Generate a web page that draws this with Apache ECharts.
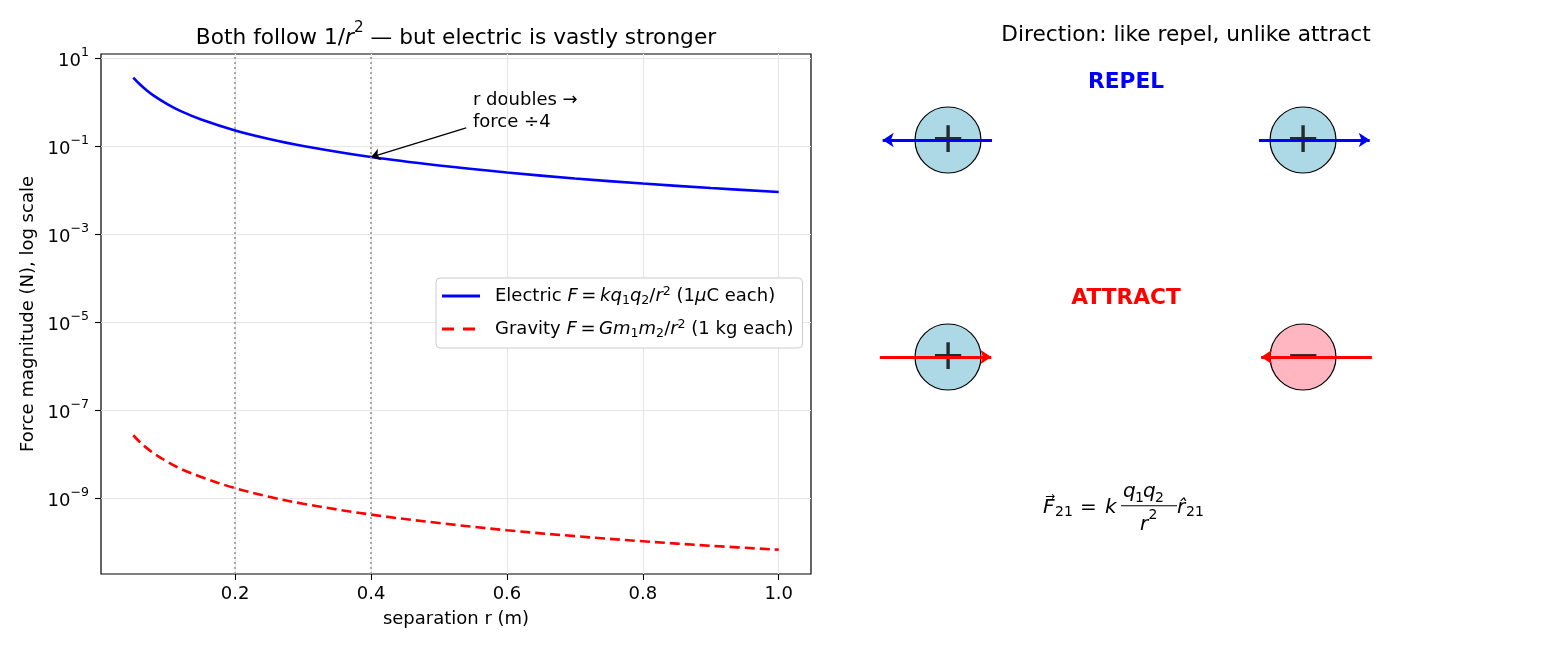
<!DOCTYPE html>
<html>
<head>
<meta charset="utf-8">
<script src="https://cdn.jsdelivr.net/npm/echarts@6/dist/echarts.min.js"></script>
<style>
  html, body { margin: 0; padding: 0; background: #fff; }
  #chart { width: 1560px; height: 650px; }
</style>
</head>
<body>
<div id="chart"></div>
<script>
// separation r (m) and force magnitudes
var rValues = [0.05, 0.06, 0.07, 0.08, 0.10, 0.12, 0.15, 0.20, 0.25, 0.30, 0.40, 0.50, 0.60, 0.70, 0.80, 0.90, 1.00];
var electricForce = [3.6, 2.5, 1.83, 1.4, 0.90, 0.62, 0.40, 0.225, 0.144, 0.10, 0.056, 0.036, 0.025, 0.0183, 0.014, 0.0111, 0.009];
var gravityForce = [2.67e-8, 1.85e-8, 1.36e-8, 1.04e-8, 6.7e-9, 4.6e-9, 3.0e-9, 1.67e-9, 1.07e-9, 7.4e-10, 4.2e-10, 2.7e-10, 1.85e-10, 1.36e-10, 1.04e-10, 8.2e-11, 6.7e-11];

// tick labels
var xTicks = [0.2, 0.4, 0.6, 0.8, 1.0];
var yTicks = [10, 0.1, 1e-3, 1e-5, 1e-7, 1e-9];
var yTickLabels = ['1', '−1', '−3', '−5', '−7', '−9'];
var markerR = [0.2, 0.4];

// annotation arrow: [r, F] start -> end
var noteFrom = [0.54, 0.257];
var noteTo = [0.4, 0.056];

// right panel diagram (own unit space)
var chargeX = [2.5, 7.5, 2.5, 7.5];
var chargeY = [8, 8, 4, 4];
var chargeSign = ['+', '+', '+', '−'];
var chargeFill = ['#add8e6', '#add8e6', '#add8e6', '#ffb6c1'];
var arrowFrom = [3.12, 6.88, 1.54, 8.47];
var arrowTo = [1.58, 8.44, 3.11, 6.91];
var arrowY = [8, 8, 4, 4];
var arrowColor = ['#0000ff', '#0000ff', '#ff0000', '#ff0000'];

var FONT = 'DejaVu Sans';

var chart = echarts.init(document.getElementById('chart'));

var legendText = {
  'Electric': 'Electric {i|F}\u2009=\u2009{i|kq}{s|1}{i|q}{s|2}/{i|r}{p|2} (1{i|μ}C each)',
  'Gravity': 'Gravity {i|F}\u2009=\u2009{i|Gm}{s|1}{i|m}{s|2}/{i|r}{p|2} (1 kg each)'
};

// small helper for the formula pieces
function mathText(txt, x, y, size, italic) {
  return {
    type: 'text', x: x, y: y, silent: true,
    style: { text: txt, fontSize: size, fontStyle: italic ? 'italic' : 'normal', fill: '#000',
      fontFamily: FONT, verticalAlign: 'middle' }
  };
}

var option = {
  animation: false,
  textStyle: { fontFamily: FONT },
  grid: [
    { left: 101, top: 54, width: 710, height: 520, show: true, borderColor: '#000', borderWidth: 1.2, backgroundColor: 'transparent' },
    { left: 770.5, top: 31.5, width: 710, height: 542.5, show: false }
  ],
  legend: {
    left: 436, top: 278, orient: 'vertical',
    padding: [7, 9, 8, 6], itemGap: 11, itemWidth: 38, itemHeight: 3,
    backgroundColor: '#fff', borderColor: '#cccccc', borderWidth: 1, borderRadius: 4,
    data: [
      { name: 'Electric', icon: 'path://M0,0H38V3H0Z' },
      { name: 'Gravity', icon: 'path://M0,0H12V3H0Z M21,0H33V3H21Z M37.9,0H38V3H37.9Z' }
    ],
    formatter: function (name) { return legendText[name]; },
    textStyle: {
      fontSize: 18, color: '#000', lineHeight: 22, padding: [0, 0, 0, 10], fontFamily: FONT,
      rich: {
        i: { fontStyle: 'italic', fontSize: 18, color: '#000', fontFamily: FONT },
        s: { fontSize: 12.6, verticalAlign: 'bottom', lineHeight: 22, color: '#000', fontFamily: FONT },
        p: { fontSize: 12.6, verticalAlign: 'top', lineHeight: 22, color: '#000', fontFamily: FONT }
      }
    }
  },
  xAxis: [
    {
      type: 'value', gridIndex: 0, min: 0.0025, max: 1.0475,
      name: 'separation r (m)', nameLocation: 'middle', nameGap: 36,
      nameTextStyle: { fontSize: 18, color: '#000' },
      axisLine: { show: false },
      axisTick: { show: true, length: 6, lineStyle: { color: '#000', width: 1.1 }, customValues: xTicks },
      axisLabel: { customValues: xTicks, fontSize: 18, color: '#000', margin: 11,
        formatter: function (v) { return v.toFixed(1); } },
      splitLine: { show: true, lineStyle: { color: '#e6e6e6', width: 1.1 } }
    },
    { type: 'value', gridIndex: 1, min: 0, max: 10, show: false }
  ],
  yAxis: [
    {
      type: 'log', logBase: 10, gridIndex: 0,
      min: Math.pow(10, -10.727), max: Math.pow(10, 1.091),
      name: 'Force magnitude (N), log scale', nameLocation: 'middle', nameGap: 64,
      nameTextStyle: { fontSize: 18, color: '#000' },
      axisLine: { show: false },
      axisTick: { show: true, length: 6, lineStyle: { color: '#000', width: 1.1 }, customValues: yTicks },
      axisLabel: {
        customValues: yTicks, color: '#000', margin: 12,
        formatter: function (v) {
          var idx = yTicks.indexOf(v);
          var e = idx >= 0 ? yTickLabels[idx] : String(Math.round(Math.log10(v)));
          return '{b|10}{e|' + e + '}';
        },
        rich: {
          b: { fontSize: 18, color: '#000', lineHeight: 24, verticalAlign: 'bottom', fontFamily: FONT },
          e: { fontSize: 12.6, color: '#000', lineHeight: 24, verticalAlign: 'top', fontFamily: FONT }
        }
      },
      splitLine: { show: true, lineStyle: { color: '#e6e6e6', width: 1.1 } }
    },
    { type: 'value', gridIndex: 1, min: 0, max: 10, show: false }
  ],
  series: [
    {
      name: 'Electric', type: 'line', xAxisIndex: 0, yAxisIndex: 0,
      data: rValues.map(function (r, i) { return [r, electricForce[i]]; }),
      smooth: 0.35, symbol: 'none', z: 3,
      lineStyle: { color: '#0000ff', width: 2.6 }, itemStyle: { color: '#0000ff' },
      markLine: {
        silent: true, symbol: ['none', 'arrow'], symbolSize: 9,
        label: { show: false },
        lineStyle: { color: '#000', width: 1.3, type: 'solid' },
        data: [[{ coord: noteFrom }, { coord: noteTo }]]
      }
    },
    {
      name: 'Gravity', type: 'line', xAxisIndex: 0, yAxisIndex: 0,
      data: rValues.map(function (r, i) { return [r, gravityForce[i]]; }),
      smooth: 0.35, symbol: 'none', z: 3,
      lineStyle: { color: '#ff0000', width: 2.6, type: [10, 5] }, itemStyle: { color: '#ff0000' },
      markLine: {
        silent: true, symbol: ['none', 'none'],
        label: { show: false },
        lineStyle: { color: '#a0a0a0', width: 1.8, type: [2, 3] },
        data: markerR.map(function (r) { return { xAxis: r }; })
      }
    },
    {
      type: 'scatter', xAxisIndex: 1, yAxisIndex: 1, symbolSize: 66, z: 2, silent: true,
      data: chargeX.map(function (x, i) {
        return { value: [x, chargeY[i]], itemStyle: { color: chargeFill[i], opacity: 1, borderColor: '#000', borderWidth: 1.2 } };
      })
    },
    {
      type: 'scatter', xAxisIndex: 1, yAxisIndex: 1, symbolSize: 1, z: 3, silent: true,
      itemStyle: { color: 'transparent' },
      label: {
        show: true, position: 'inside', fontSize: 42, color: '#000', fontFamily: FONT, offset: [0, 1.5],
        formatter: function (p) { return chargeSign[p.dataIndex]; }
      },
      data: chargeX.map(function (x, i) { return [x, chargeY[i]]; })
    },
    {
      type: 'lines', coordinateSystem: 'cartesian2d', xAxisIndex: 1, yAxisIndex: 1, z: 4, silent: true,
      symbol: ['none', 'arrow'], symbolSize: 11,
      lineStyle: { width: 2.8, opacity: 1 },
      data: arrowFrom.map(function (x, i) {
        return { coords: [[x, arrowY[i]], [arrowTo[i], arrowY[i]]], lineStyle: { color: arrowColor[i] } };
      })
    }
  ],
  graphic: [
    {
      type: 'text', x: 456, y: 35, silent: true,
      style: {
        text: '{a|Both follow 1/}{i|r}{p|2}{a| — but electric is vastly stronger}',
        align: 'center', verticalAlign: 'middle', fill: '#000', fontFamily: FONT,
        rich: {
          a: { fontSize: 21.7, lineHeight: 28, verticalAlign: 'bottom', fontFamily: FONT },
          i: { fontSize: 21.7, fontStyle: 'italic', lineHeight: 28, verticalAlign: 'bottom', fontFamily: FONT },
          p: { fontSize: 15.2, lineHeight: 28, verticalAlign: 'top', fontFamily: FONT }
        }
      }
    },
    {
      type: 'text', x: 1186, y: 35, silent: true,
      style: { text: 'Direction: like repel, unlike attract', align: 'center', verticalAlign: 'middle',
        fontSize: 21.7, fill: '#000', fontFamily: FONT }
    },
    {
      type: 'text', x: 1126, y: 82, silent: true,
      style: { text: 'REPEL', align: 'center', verticalAlign: 'middle', fontSize: 21.7, fontWeight: 'bold',
        fill: '#0000ff', fontFamily: FONT }
    },
    {
      type: 'text', x: 1126, y: 298, silent: true,
      style: { text: 'ATTRACT', align: 'center', verticalAlign: 'middle', fontSize: 21.7, fontWeight: 'bold',
        fill: '#ff0000', fontFamily: FONT }
    },
    {
      type: 'text', x: 473, y: 90, silent: true,
      style: { text: 'r doubles →\nforce ÷4', align: 'left', verticalAlign: 'top', fontSize: 18,
        lineHeight: 21.6, fill: '#000', fontFamily: FONT }
    },
    // formula  F21 = k q1q2 / r^2 r^21
    mathText('F', 1043, 508, 20, true),
    mathText('→', 1045, 497, 12, false),
    mathText('21', 1055, 512, 14, false),
    mathText('=', 1080, 508, 20, false),
    mathText('k', 1105, 508, 20, true),
    mathText('q', 1123, 492, 20, true),
    mathText('1', 1135, 498, 14, false),
    mathText('q', 1143, 492, 20, true),
    mathText('2', 1155, 498, 14, false),
    { type: 'line', silent: true, shape: { x1: 1121, y1: 505.7, x2: 1177, y2: 505.7 }, style: { stroke: '#000', lineWidth: 1.1 } },
    mathText('r', 1140, 525, 20, true),
    mathText('2', 1148.5, 515, 14, false),
    mathText('r\u0302', 1177, 508, 20, true),
    mathText('21', 1186, 512, 14, false)
  ]
};

chart.setOption(option);
</script>
</body>
</html>
